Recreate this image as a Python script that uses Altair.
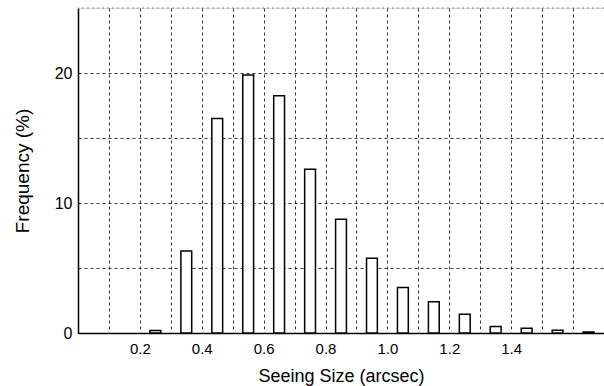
import altair as alt
import pandas as pd

# bin centres (arcsec) and frequencies (%)
seeing = [0.25, 0.35, 0.45, 0.55, 0.65, 0.75, 0.85, 0.95, 1.05, 1.15, 1.25, 1.35, 1.45, 1.55, 1.65]
freq = [0.2, 6.3, 16.5, 19.85, 18.25, 12.6, 8.75, 5.75, 3.5, 2.4, 1.45, 0.5, 0.36, 0.22, 0.08]

x_grid = [0.1, 0.2, 0.3, 0.4, 0.5, 0.6, 0.7, 0.8, 0.9, 1.0, 1.1, 1.2, 1.3, 1.4, 1.5, 1.6]
x_labels = [0.2, 0.4, 0.6, 0.8, 1.0, 1.2, 1.4]
y_grid = [0, 5, 10, 15, 20]
y_labels = [0, 10, 20]

df = pd.DataFrame({"seeing": seeing, "freq": freq})

FONT = "Liberation Sans"
lab_list = ",".join(str(v) for v in x_labels)
x_label_expr = f"indexof([{lab_list}], round(datum.value*10)/10) >= 0 ? format(datum.value, '.1f') : ''"
ylab_list = ",".join(str(v) for v in y_labels)
y_label_expr = f"indexof([{ylab_list}], datum.value) >= 0 ? datum.label : ''"

xscale = alt.Scale(domain=[0, 1.7], nice=False, zero=False)
yscale = alt.Scale(domain=[0, 25], nice=False)

bars = alt.Chart(df).transform_calculate(
    x0="datum.seeing - 0.0175", x1="datum.seeing + 0.0175"
).mark_bar(fill="white", stroke="black", strokeWidth=1.5).encode(
    x=alt.X("x0:Q", scale=xscale, title="Seeing Size (arcsec)",
            axis=alt.Axis(values=x_grid, labelExpr=x_label_expr, grid=True,
                          gridDash=[3, 3], gridColor="black", gridOpacity=0.8,
                          ticks=False, domainColor="black", domainWidth=1.5,
                          labelFont=FONT, labelFontSize=15, labelColor="black",
                          labelPadding=8, titleFont=FONT, titleFontSize=18,
                          titleFontWeight="normal", titleColor="black",
                          titlePadding=11, labelFlush=False)),
    x2="x1:Q",
    y=alt.Y("freq:Q", scale=yscale, title="Frequency (%)",
            axis=alt.Axis(values=y_grid, labelExpr=y_label_expr, grid=True,
                          gridDash=[3, 3], gridColor="black", gridOpacity=0.8,
                          ticks=False, domainColor="black", domainWidth=1.5,
                          labelFont=FONT, labelFontSize=16, labelColor="black",
                          labelPadding=6, titleFont=FONT, titleFontSize=19,
                          titleFontWeight="normal", titleColor="black",
                          titlePadding=22)),
    y2=alt.datum(0),
)

top = alt.Chart(pd.DataFrame({"y": [25]})).mark_rule(
    color="gray", strokeDash=[2, 3], strokeWidth=1
).encode(y=alt.Y("y:Q", scale=yscale))

chart = alt.layer(top, bars).properties(
    width=526, height=325,
    autosize=alt.AutoSizeParams(type="none"),
    padding={"left": 78, "top": 8, "right": 0, "bottom": 53},
).configure_view(stroke=None).configure(background="white")

chart.save("out.html", embed_options={"renderer": "svg", "actions": False})
